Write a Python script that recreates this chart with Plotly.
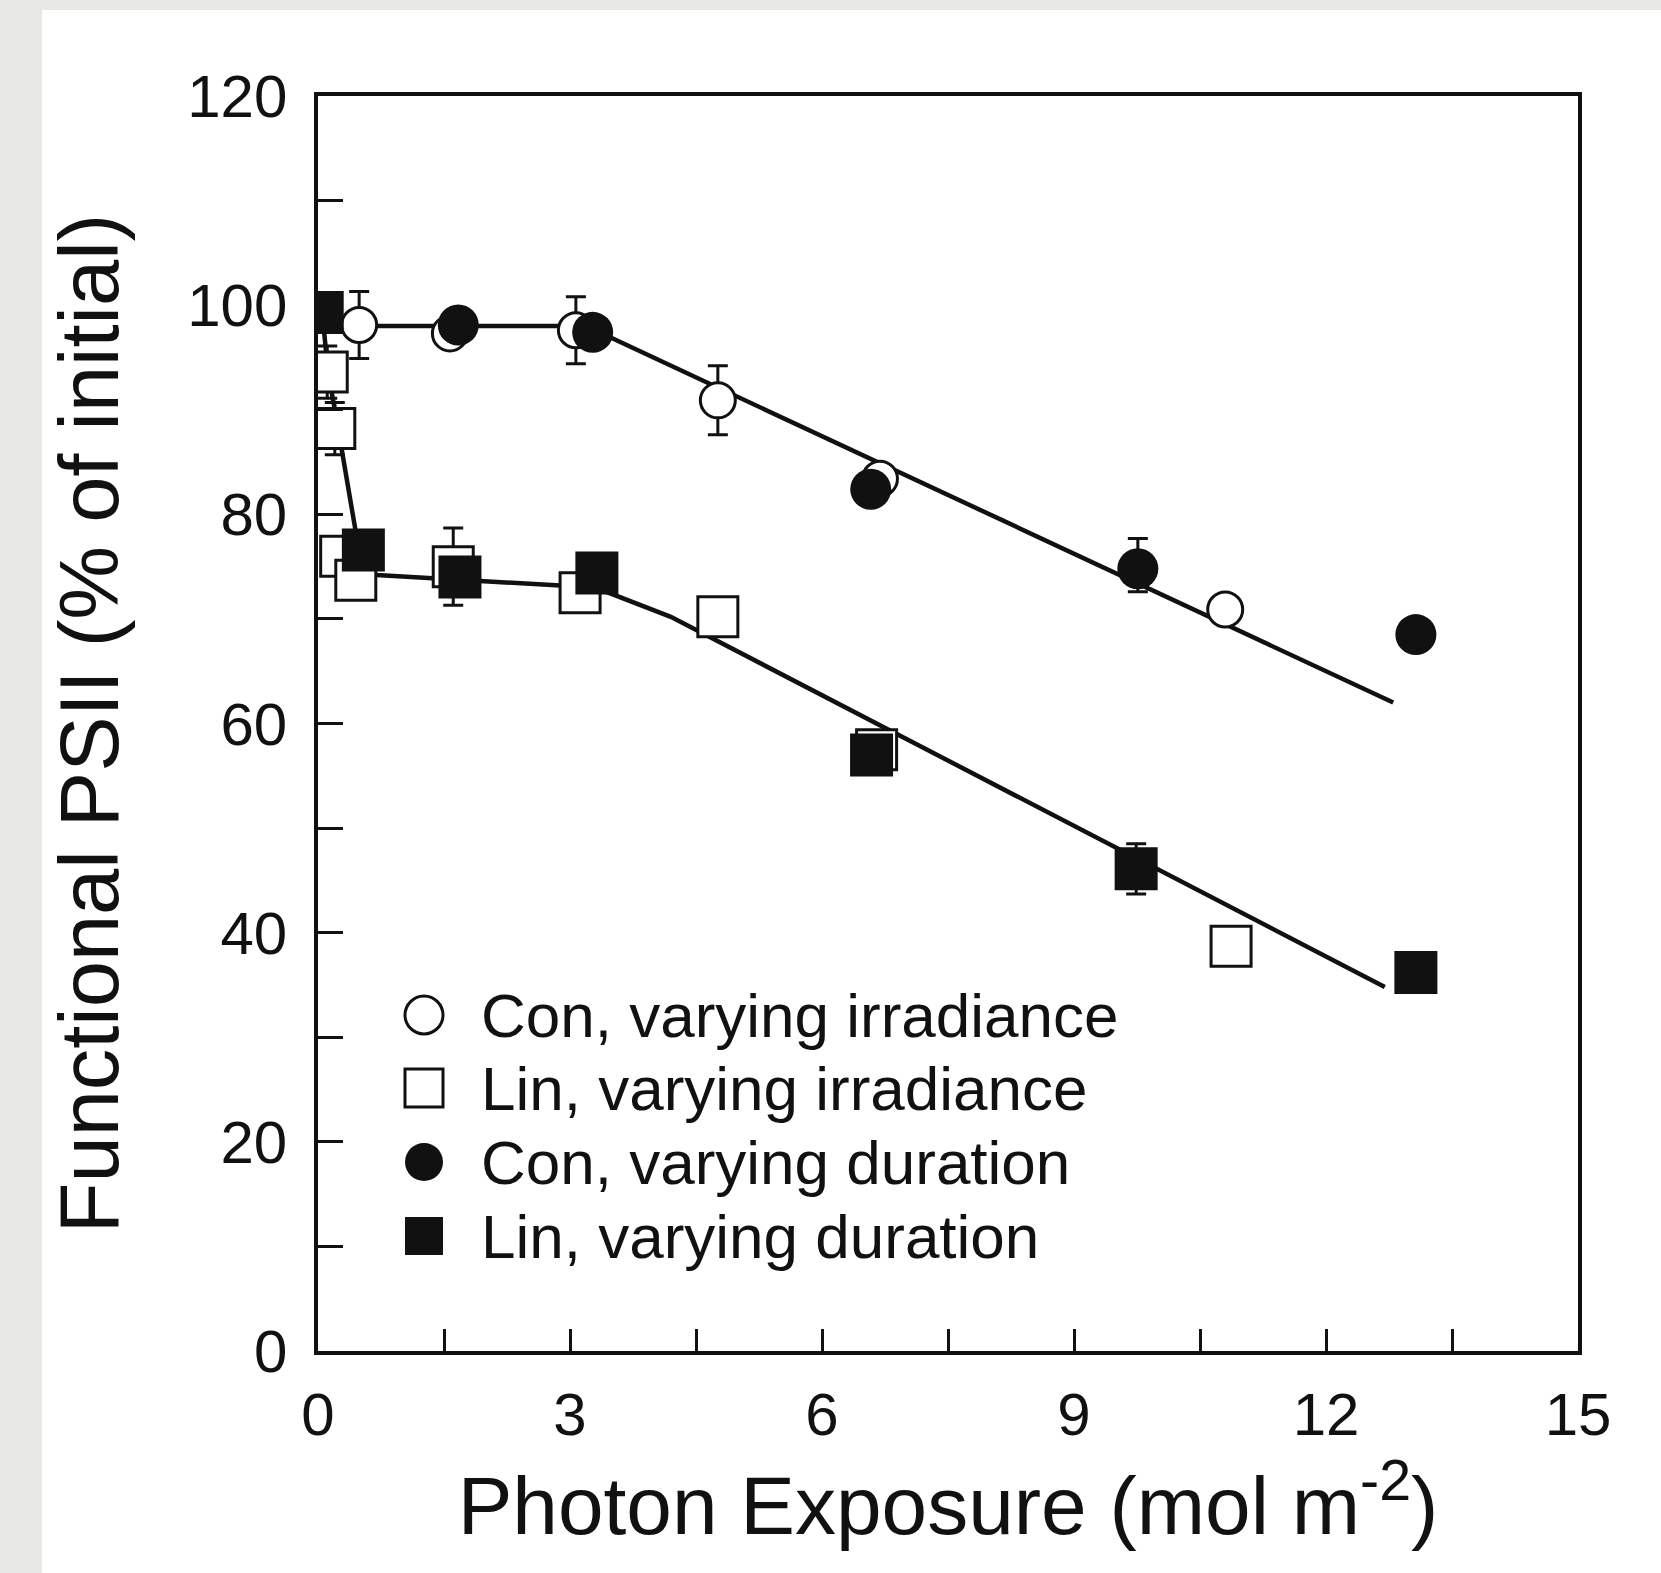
import plotly.graph_objects as go

# ---------------- data ----------------
con_irr_x = [0.49, 1.57, 3.07, 4.76, 6.69, 10.80]
con_irr_y = [98.1, 97.3, 97.6, 90.9, 83.4, 70.9]
con_irr_err = [3.2, 0, 3.2, 3.3, 0, 0]

lin_irr_x = [0.11, 0.20, 0.27, 0.45, 1.61, 3.12, 4.76, 6.65, 10.87]
lin_irr_y = [93.6, 88.2, 76.0, 73.7, 75.0, 72.5, 70.2, 57.5, 38.7]
lin_irr_err = [2.5, 2.5, 0, 0, 3.7, 0, 0, 0, 0]

con_dur_x = [1.67, 3.27, 6.58, 9.76, 13.07]
con_dur_y = [98.1, 97.4, 82.4, 74.8, 68.5]
con_dur_err_plus = [0, 0, 0, 2.9, 0]
con_dur_err_minus = [0, 0, 0, 2.2, 0]

lin_dur_x = [0.05, 0.54, 1.69, 3.32, 6.59, 9.74, 13.07]
lin_dur_y = [99.3, 76.6, 74.0, 74.4, 57.0, 46.1, 36.2]
lin_dur_err = [0, 0, 0, 0, 0, 2.4, 0]

con_fit_x = [0.0, 3.19, 12.8]
con_fit_y = [98.0, 98.0, 62.0]

lin_fit_x = [0.05, 0.12, 0.24, 0.52, 0.7, 3.3, 4.2, 12.7]
lin_fit_y = [99.3, 93.6, 88.2, 75.0, 74.2, 73.0, 70.2, 34.8]

legend_labels = ["Con, varying irradiance", "Lin, varying irradiance",
                 "Con, varying duration", "Lin, varying duration"]

x_title = "Photon Exposure (mol m<sup style='font-size:70%'>-2</sup>)"
y_title = "Functional PSII (% of initial)"

# ---------------- layout geometry ----------------
W, H = 1661, 1573
ML, MR, MT, MB = 318, 83, 96, 222
PW, PH = W - ML - MR, H - MT - MB

def px_x(p):
    return (p - ML) / PW

def px_y(p):
    return (H - MB - p) / PH

FONT = "Liberation Sans, Arial, Helvetica, sans-serif"
INK = "#111111"

fig = go.Figure()

# fitted lines
for fx, fy in [(con_fit_x, con_fit_y), (lin_fit_x, lin_fit_y)]:
    fig.add_trace(go.Scatter(x=fx, y=fy, mode="lines",
                             line=dict(color=INK, width=4.5),
                             hoverinfo="skip", showlegend=False))

err_style = dict(type="data", color=INK, thickness=3, width=10)

# open symbols
fig.add_trace(go.Scatter(
    x=con_irr_x, y=con_irr_y, mode="markers", name=legend_labels[0],
    marker=dict(symbol="circle", size=35, color="white",
                line=dict(color=INK, width=3)),
    error_y=dict(array=con_irr_err, **err_style), showlegend=False))
fig.add_trace(go.Scatter(
    x=lin_irr_x, y=lin_irr_y, mode="markers", name=legend_labels[1],
    marker=dict(symbol="square", size=40, color="white",
                line=dict(color=INK, width=3)),
    error_y=dict(array=lin_irr_err, **err_style), showlegend=False))
# filled symbols
fig.add_trace(go.Scatter(
    x=con_dur_x, y=con_dur_y, mode="markers", name=legend_labels[2],
    marker=dict(symbol="circle", size=41, color=INK,
                line=dict(color=INK, width=0)),
    error_y=dict(array=con_dur_err_plus, arrayminus=con_dur_err_minus,
                 symmetric=False, **err_style), showlegend=False))
fig.add_trace(go.Scatter(
    x=lin_dur_x, y=lin_dur_y, mode="markers", name=legend_labels[3],
    marker=dict(symbol="square", size=43, color=INK,
                line=dict(color=INK, width=0)),
    error_y=dict(array=lin_dur_err, **err_style), showlegend=False))

# ---------------- legend (drawn in paper space) ----------------
shapes = []
annotations = []
leg_sym_x = 424
leg_text_x = 479
leg_rows = [1015, 1088, 1162, 1236]
half = 19
kinds = [("circle", False), ("rect", False), ("circle", True), ("rect", True)]
for (kind, filled), row, label in zip(kinds, leg_rows, legend_labels):
    shapes.append(dict(
        type=kind, xref="paper", yref="paper", layer="above",
        x0=px_x(leg_sym_x - half), x1=px_x(leg_sym_x + half),
        y0=px_y(row + half), y1=px_y(row - half),
        fillcolor=INK if filled else "white",
        line=dict(color=INK, width=0 if filled else 3)))
    annotations.append(dict(
        xref="paper", yref="paper", x=px_x(leg_text_x), y=px_y(row),
        xanchor="left", yanchor="middle", text=label, showarrow=False,
        font=dict(family=FONT, size=62, color=INK)))

# scanned-page grey margins
shapes.append(dict(type="rect", xref="paper", yref="paper", layer="below",
                   x0=px_x(0), x1=px_x(42), y0=px_y(H), y1=px_y(0),
                   fillcolor="#e8e8e6", line=dict(width=0)))
shapes.append(dict(type="rect", xref="paper", yref="paper", layer="below",
                   x0=px_x(0), x1=px_x(W), y0=px_y(10), y1=px_y(0),
                   fillcolor="#e8e8e6", line=dict(width=0)))

axis_common = dict(showline=True, mirror=True, linecolor=INK, linewidth=3.5,
                   showgrid=False, zeroline=False, ticks="inside",
                   tickcolor=INK, tickwidth=2.5,
                   tickfont=dict(family=FONT, size=60, color=INK))

fig.update_layout(
    width=W, height=H,
    margin=dict(l=ML, r=MR, t=MT, b=MB, pad=0),
    paper_bgcolor="white", plot_bgcolor="white",
    showlegend=False,
    shapes=shapes, annotations=annotations,
    xaxis=dict(range=[0, 15], tickmode="linear", tick0=0, dtick=3,
               ticklen=22, ticklabelstandoff=8,
               minor=dict(dtick=1.5, ticks="inside", ticklen=22,
                          tickwidth=2.5, tickcolor=INK, showgrid=False),
               title=dict(text=x_title, standoff=20,
                          font=dict(family=FONT, size=82, color=INK)),
               **axis_common),
    yaxis=dict(range=[0, 120], tickmode="linear", tick0=0, dtick=20,
               ticklen=25, ticklabelstandoff=15,
               minor=dict(dtick=10, ticks="inside", ticklen=25,
                          tickwidth=2.5, tickcolor=INK, showgrid=False),
               title=dict(text=y_title, standoff=42,
                          font=dict(family=FONT, size=83, color=INK)),
               **axis_common),
)

fig.write_html("out.html")
